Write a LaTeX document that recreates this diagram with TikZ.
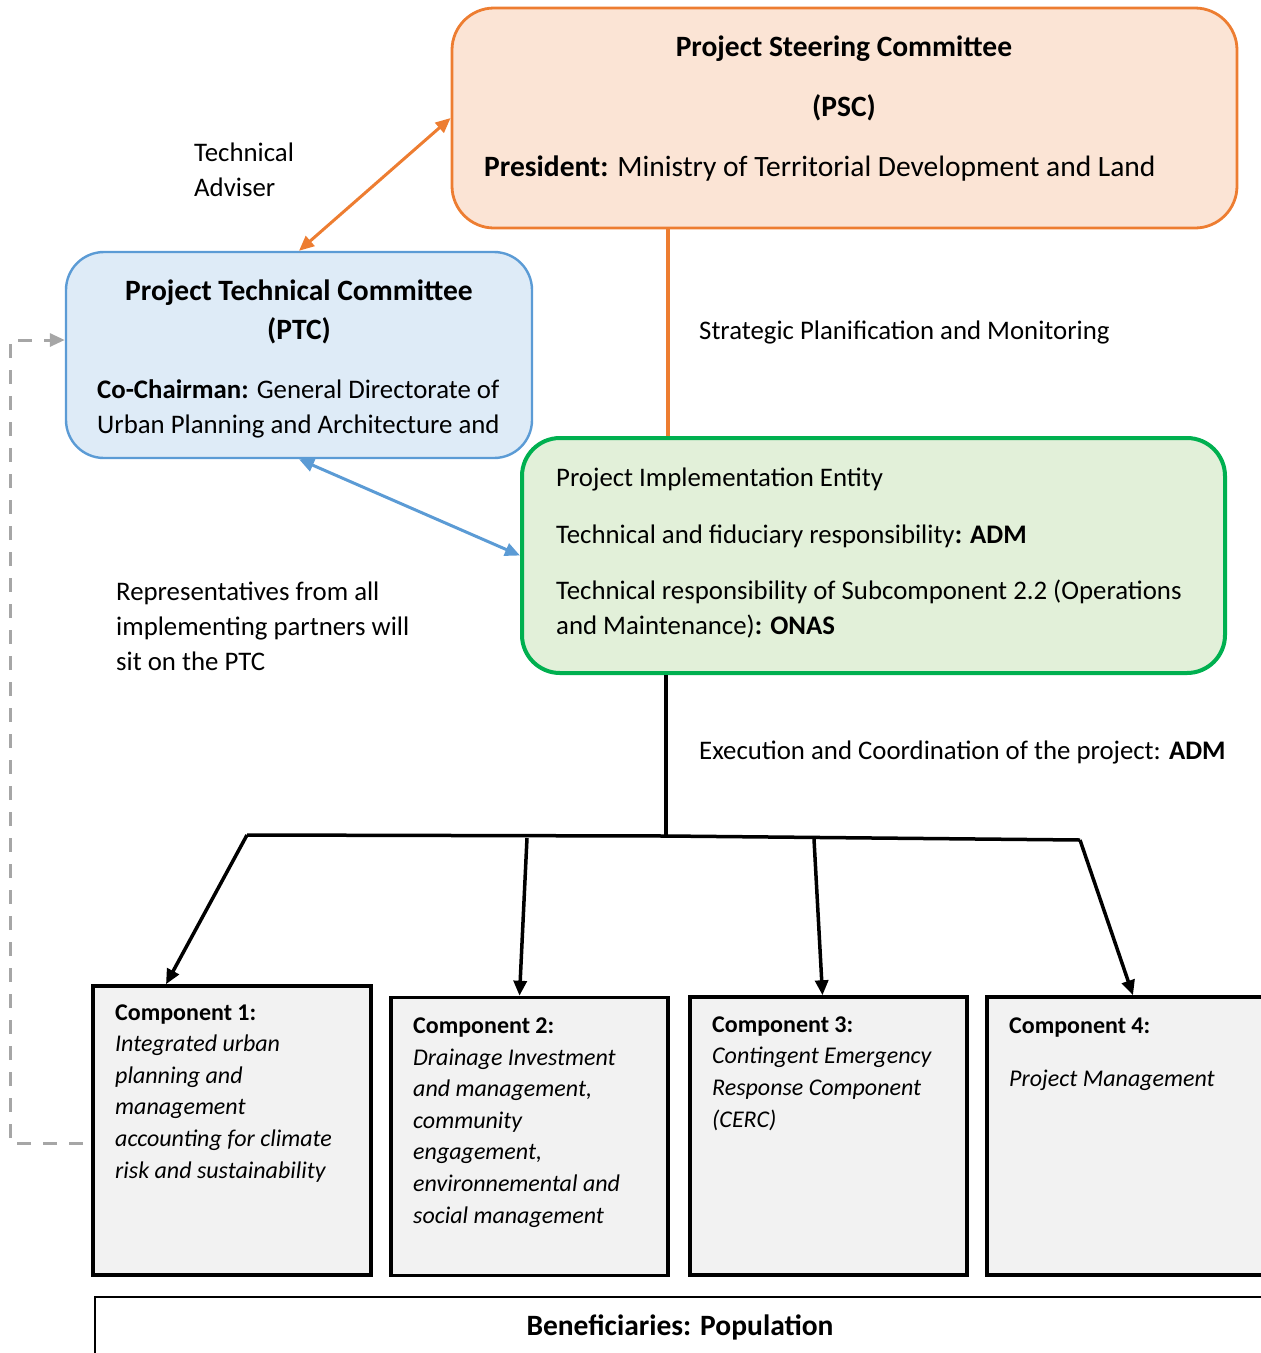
\documentclass[tikz,border=0pt]{standalone}
\usepackage{fontspec}
\setmainfont{Carlito}
\usetikzlibrary{arrows.meta}
\definecolor{pscfill}{HTML}{FBE4D5}
\definecolor{pscline}{HTML}{ED7D31}
\definecolor{ptcfill}{HTML}{DEEBF7}
\definecolor{ptcline}{HTML}{5B9BD5}
\definecolor{piefill}{HTML}{E2F0D9}
\definecolor{pieline}{HTML}{00B050}
\definecolor{compfill}{HTML}{F2F2F2}
\definecolor{dashgray}{HTML}{A6A6A6}

\begin{document}
\begin{tikzpicture}[x=1pt,y=-1pt,
    font=\fontsize{26.8}{35}\selectfont,
    >={Triangle[length=15pt,width=13pt]},
    round box/.style={draw,rounded corners=38pt,line width=2.5pt,inner sep=0pt},
    comp box/.style={draw,fill=compfill,line width=3.5pt,inner sep=0pt,minimum width=277pt,minimum height=278pt},
    txt/.style={inner sep=0pt,align=left,anchor=base west},
    ctxt/.style={inner sep=0pt,align=center,anchor=base},
    big/.style={font=\fontsize{29.5}{36}\selectfont},
    comptxt/.style={txt,font=\fontsize{24}{31.6}\selectfont},
    conn/.style={line width=3pt}]
  \useasboundingbox (0,0) rectangle (1261,1353);
  \clip (0,0) rectangle (1261,1353);
  % main boxes
  \node[round box,fill=pscfill,draw=pscline,line width=2.8pt,rounded corners=42pt,minimum width=785pt,minimum height=220pt] (psc) at (844.5,118) {};
  \node[round box,fill=ptcfill,draw=ptcline,line width=2.4pt,minimum width=466pt,minimum height=206pt] (ptc) at (299,355) {};
  \node[round box,fill=piefill,draw=pieline,line width=4pt,minimum width=703pt,minimum height=235pt] (pie) at (873.5,555.5) {};
  % components
  \node[comp box,minimum height=289pt,minimum width=278pt] (c1) at (232,1130.5) {};
  \node[comp box] (c2) at (529.5,1136.5) {};
  \node[comp box] (c3) at (828.5,1136) {};
  \node[comp box,minimum width=282pt] (c4) at (1128,1136) {};
  \node[draw,line width=2pt,inner sep=0pt,minimum width=1205pt,minimum height=103pt] (ben) at (697.5,1348.5) {};
  % texts (base anchor = last line)
  \node[ctxt,big] (psct) at (844,56) {\textbf{Project Steering Committee}};
  \node[ctxt,big] (pscs) at (844,116) {\textbf{(PSC)}};
  \node[txt,big] (pscp) at (484,176) {\textbf{President:} Ministry of Territorial Development and Land};
  \node[ctxt,big] (ptct) at (299,300) {\textbf{Project Technical Committee}};
  \node[ctxt,big] (ptcs) at (299,339) {\textbf{(PTC)}};
  \node[txt] (ptcc) at (97,433) {\textbf{Co-Chairman:} General Directorate of\\Urban Planning and Architecture and};
  \node[txt] (piet) at (556,634) {Project Implementation Entity\\[22pt]
    Technical and fiduciary responsibility\textbf{: ADM}\\[21pt]
    Technical responsibility of Subcomponent 2.2 (Operations\\
    and Maintenance)\textbf{: ONAS}};
  \node[txt] (adv) at (194,196) {Technical\\Adviser};
  \node[txt] (strat) at (699,339) {Strategic Planification and Monitoring};
  \node[txt] (reps) at (116,670) {Representatives from all\\implementing partners will\\sit on the PTC};
  \node[txt] (exec) at (699,759) {Execution and Coordination of the project: \textbf{ADM}};
  \node[comptxt] (c1t) at (115,1178) {\textbf{Component 1:}\\\textit{Integrated urban}\\\textit{planning and}\\\textit{management}\\\textit{accounting for climate}\\\textit{risk and sustainability}};
  \node[comptxt] (c2t) at (413,1223) {\textbf{Component 2:}\\\textit{Drainage Investment}\\\textit{and management,}\\\textit{community}\\\textit{engagement,}\\\textit{environnemental and}\\\textit{social management}};
  \node[comptxt] (c3t) at (712,1127) {\textbf{Component 3:}\\\textit{Contingent Emergency}\\\textit{Response Component}\\\textit{(CERC)}};
  \node[comptxt] (c4t) at (1009,1086) {\textbf{Component 4:}\\[21.4pt]\textit{Project Management}};
  \node[ctxt,big] (bent) at (680,1335) {\textbf{Beneficiaries: Population}};
  % links between committees
  \draw[conn,pscline,<->] (ptc.north) -- (psc.west);
  \draw[conn,ptcline,<->] (ptc.south) -- (pie.west);
  \draw[conn,pscline,line width=4pt] (psc.south -| 668,0) -- (pie.north -| 668,0);
  % tree to the components
  \coordinate (hub) at (666,836);
  \coordinate (b1) at (247,835);
  \coordinate (b2) at (527,838);
  \coordinate (b3) at (814,839);
  \coordinate (b4) at (1080,840);
  \draw[conn,line width=3.8pt] (pie.south -| hub) -- (hub);
  \draw[conn,line width=3.5pt] (b1) -- (hub) -- (b4);
  \draw[conn,line width=3.5pt,->] (b1) -- ([xshift=-66pt]c1.north);
  \draw[conn,line width=3.5pt,->] (b2) -- ([xshift=-10pt]c2.north);
  \draw[conn,line width=3.5pt,->] (b3) -- ([xshift=-6pt]c3.north);
  \draw[conn,line width=3.5pt,->] (b4) -- ([xshift=5pt]c4.north);
  % dashed return to the PTC
  \coordinate (dstart) at (83,1143);
  \draw[conn,dashgray,dash pattern=on 14pt off 12pt,->] (dstart) -- (10,1143) |- ([yshift=15pt]ptc.west);
\end{tikzpicture}
\end{document}
